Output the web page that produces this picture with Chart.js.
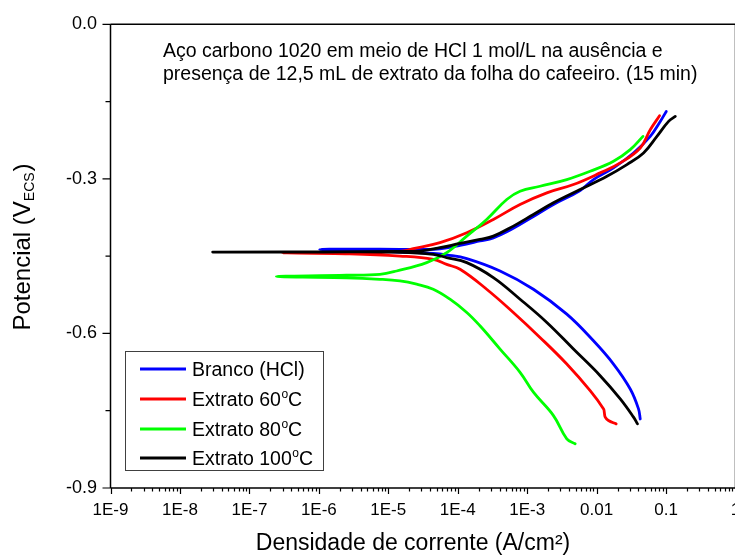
<!DOCTYPE html>
<html><head><meta charset="utf-8">
<script src="https://cdn.jsdelivr.net/npm/chart.js@4.4.1/dist/chart.umd.min.js"></script>
<style>
html,body{margin:0;padding:0;background:#fff;overflow:hidden;width:735px;height:556px}
#wrap{position:absolute;left:0;top:0;width:760px;height:556px}
</style></head><body>
<div id="wrap"><canvas id="c" width="760" height="556"></canvas></div>
<script>
// ---------- data (current density A/cm², potential V vs ECS) ----------
const brancoI = [4.25e-2, 4.01e-2, 3.05e-2, 1.75e-2, 9.01e-3, 3.72e-3, 1.23e-3, 4.07e-4, 1.35e-4, 6.93e-5, 4.44e-5, 1.47e-5, 3.9e-6, 1.03e-6, 3.9e-6, 1.47e-5, 2.86e-5, 5.55e-5, 1.08e-4, 2.09e-4, 3.26e-4, 6.32e-4, 1.23e-3, 2.39e-3, 5.79e-3, 9.01e-3, 1.75e-2, 3.40e-2, 5.92e-2, 8.25e-2, 0.1007];
const brancoE = [-0.766, -0.7465, -0.7078, -0.6594, -0.6143, -0.5626, -0.5142, -0.4788, -0.4548, -0.4475, -0.4445, -0.442, -0.4395, -0.437, -0.4365, -0.4368, -0.4368, -0.4358, -0.429, -0.4205, -0.4145, -0.396, -0.373, -0.3497, -0.3226, -0.3013, -0.2787, -0.2497, -0.2175, -0.1885, -0.1691];

const ext60I = [1.91e-2, 1.48e-2, 1.33e-2, 1.29e-2, 1.26e-2, 8.07e-3, 3.72e-3, 1.53e-3, 6.32e-4, 2.61e-4, 1.08e-4, 6.93e-5, 4.44e-5, 1.47e-5, 2.79e-6, 3.02e-7, 2.79e-6, 1.47e-5, 2.29e-5, 5.55e-5, 1.35e-4, 3.26e-4, 7.90e-4, 1.92e-3, 4.64e-3, 1.125e-2, 2.19e-2, 4.25e-2, 5.92e-2, 8.06e-2];
const ext60E = [-0.7755, -0.7691, -0.7625, -0.7530, -0.7465, -0.7111, -0.6594, -0.6077, -0.5593, -0.5142, -0.4755, -0.4660, -0.4562, -0.4498, -0.4455, -0.4436, -0.4436, -0.4407, -0.4355, -0.4238, -0.4045, -0.3787, -0.3497, -0.3271, -0.311, -0.2884, -0.269, -0.24, -0.2046, -0.1775];

const ext80I = [4.91e-3, 3.72e-3, 2.39e-3, 1.23e-3, 7.90e-4, 4.07e-4, 2.09e-4, 1.35e-4, 7.73e-5, 4.44e-5, 2.56e-5, 1.47e-5, 7.57e-6, 2.5e-6, 2.45e-7, 2.5e-6, 7.57e-6, 1.32e-5, 3.57e-5, 6.93e-5, 1.35e-4, 2.61e-4, 5.08e-4, 7.90e-4, 1.53e-3, 3.72e-3, 8.07e-3, 1.75e-2, 3.05e-2, 4.65e-2];
const ext80E = [-0.8142, -0.8045, -0.7594, -0.7141, -0.6754, -0.6303, -0.5852, -0.5593, -0.5336, -0.5142, -0.5045, -0.4982, -0.4949, -0.492, -0.4896, -0.4871, -0.4852, -0.4788, -0.4626, -0.4432, -0.4111, -0.3787, -0.34, -0.324, -0.3143, -0.3013, -0.2853, -0.2659, -0.2433, -0.2175];

const ext100I = [3.88e-2, 3.40e-2, 2.19e-2, 1.125e-2, 4.64e-3, 1.92e-3, 7.90e-4, 3.26e-4, 1.35e-4, 6.93e-5, 4.44e-5, 1.47e-5, 1.03e-6, 2.96e-8, 1.03e-6, 1.47e-5, 2.86e-5, 5.55e-5, 1.08e-4, 2.09e-4, 3.26e-4, 6.32e-4, 1.23e-3, 2.39e-3, 5.79e-3, 1.41e-2, 2.73e-2, 4.74e-2, 7.39e-2, 0.1087, 0.1358];
const ext100E = [-0.7755, -0.7625, -0.7271, -0.682, -0.6303, -0.5787, -0.5336, -0.4916, -0.4626, -0.4529, -0.4465, -0.4425, -0.442, -0.442, -0.4416, -0.4407, -0.4401, -0.4336, -0.4252, -0.4175, -0.4111, -0.3917, -0.3691, -0.3464, -0.3207, -0.2949, -0.2723, -0.2497, -0.2175, -0.1885, -0.1788];

const seriesLabels = ['Branco (HCl)', 'Extrato 60°C', 'Extrato 80°C', 'Extrato 100°C'];
const seriesColors = ['#0000ff', '#ff0000', '#00ff00', '#000000'];

const xTickValues = [1e-9, 1e-8, 1e-7, 1e-6, 1e-5, 1e-4, 1e-3, 1e-2, 1e-1, 1];
const xTickLabels = ['1E-9', '1E-8', '1E-7', '1E-6', '1E-5', '1E-4', '1E-3', '0.01', '0.1', '1'];
const yTickValues = [0, -0.3, -0.6, -0.9];
const yTickLabels = ['0.0', '-0.3', '-0.6', '-0.9'];
const yMinorValues = [-0.15, -0.45, -0.75];

const noteLines = ['Aço carbono 1020 em meio de HCl 1 mol/L na ausência e',
                   'presença de 12,5 mL de extrato da folha do cafeeiro. (15 min)'];
const legendParts = [['Branco (HCl)', '', ''], ['Extrato 60', 'o', 'C'], ['Extrato 80', 'o', 'C'], ['Extrato 100', 'o', 'C']];

// ---------- chart ----------
const FONT = "'Liberation Sans', Arial, Helvetica, sans-serif";
Chart.defaults.font.family = FONT;
Chart.defaults.color = '#000';

function pts(I, E) { return I.map((v, i) => ({ x: v, y: E[i] })); }
const pairs = [[brancoI, brancoE], [ext60I, ext60E], [ext80I, ext80E], [ext100I, ext100E]];
const drawOrder = [3, 2, 1, 0];

const datasets = pairs.map((p, k) => ({
  label: seriesLabels[k],
  data: pts(p[0], p[1]),
  showLine: true,
  borderColor: seriesColors[k],
  backgroundColor: seriesColors[k],
  borderWidth: 2.8,
  borderJoinStyle: 'round',
  borderCapStyle: 'round',
  pointRadius: 0,
  tension: 0.4,
  fill: false,
  order: drawOrder[k]
}));

const decor = {
  id: 'decor',
  afterDraw(chart) {
    const { ctx, chartArea: a, scales: { x, y } } = chart;
    ctx.save();
    ctx.strokeStyle = '#000';
    ctx.lineWidth = 1.5;
    ctx.beginPath();
    ctx.moveTo(a.left, a.top); ctx.lineTo(a.right + 2, a.top);
    ctx.moveTo(a.left, a.top); ctx.lineTo(a.left, a.bottom);
    ctx.moveTo(a.left, a.bottom); ctx.lineTo(a.right, a.bottom);
    ctx.moveTo(a.right, a.top); ctx.lineTo(a.right, a.bottom);
    ctx.stroke();
    // x ticks (outward, down)
    ctx.lineWidth = 1.2;
    ctx.beginPath();
    for (let d = -9; d <= 0; d++) {
      for (let m = 1; m <= 9; m++) {
        const v = m * Math.pow(10, d);
        if (v > 1.0000001) break;
        const px = Math.round(x.getPixelForValue(v)) + 0.5;
        const len = m === 1 ? 6 : 3.5;
        ctx.moveTo(px, a.bottom); ctx.lineTo(px, a.bottom + len);
      }
    }
    // y ticks (outward, left)
    yTickValues.forEach(v => { const py = y.getPixelForValue(v); ctx.moveTo(a.left, py); ctx.lineTo(a.left - 8, py); });
    yMinorValues.forEach(v => { const py = y.getPixelForValue(v); ctx.moveTo(a.left, py); ctx.lineTo(a.left - 5, py); });
    ctx.stroke();

    ctx.fillStyle = '#000';
    // annotation
    ctx.font = '19.5px ' + FONT;
    ctx.textAlign = 'left';
    ctx.textBaseline = 'middle';
    ctx.fillText(noteLines[0], 163, 52);
    ctx.fillText(noteLines[1], 163, 75);

    // x title
    ctx.font = '23px ' + FONT;
    ctx.textAlign = 'center';
    ctx.fillText('Densidade de corrente (A/cm²)', 413, 544);

    // y title with subscript
    ctx.save();
    ctx.translate(22, 247);
    ctx.rotate(-Math.PI / 2);
    ctx.textAlign = 'left';
    ctx.textBaseline = 'alphabetic';
    const big = '24px ' + FONT, small = '14px ' + FONT;
    ctx.font = big; const w1 = ctx.measureText('Potencial (V').width; const w3 = ctx.measureText(')').width;
    ctx.font = small; const w2 = ctx.measureText('ECS').width;
    const tot = w1 + w2 + w3 + 1;
    let sx = -tot / 2; const base = 8;
    ctx.font = big; ctx.fillText('Potencial (V', sx, base); sx += w1;
    ctx.font = small; ctx.fillText('ECS', sx, base + 4); sx += w2 + 1;
    ctx.font = big; ctx.fillText(')', sx, base);
    ctx.restore();

    // legend
    ctx.lineWidth = 1;
    ctx.strokeStyle = '#404040';
    ctx.strokeRect(125.5, 351.5, 198, 119);
    const rows = [369, 399, 429, 458];
    legendParts.forEach((p, k) => {
      const ry = rows[k];
      ctx.strokeStyle = seriesColors[k];
      ctx.lineWidth = 3;
      ctx.beginPath(); ctx.moveTo(140, ry); ctx.lineTo(186, ry); ctx.stroke();
      ctx.fillStyle = '#000';
      ctx.textAlign = 'left';
      ctx.textBaseline = 'alphabetic';
      const bl = ry + 7;
      let tx = 192;
      ctx.font = '19.5px ' + FONT; ctx.fillText(p[0], tx, bl); tx += ctx.measureText(p[0]).width;
      if (p[1]) {
        ctx.font = '12px ' + FONT; ctx.fillText(p[1], tx + 0.5, bl - 8); tx += ctx.measureText(p[1]).width + 0.5;
        ctx.font = '19.5px ' + FONT; ctx.fillText(p[2], tx, bl);
      }
    });
    ctx.restore();
  }
};

new Chart(document.getElementById('c'), {
  type: 'scatter',
  data: { datasets },
  options: {
    responsive: false,
    animation: false,
    devicePixelRatio: 1,
    layout: { padding: { top: 24, right: 24.5, left: 0, bottom: 0 } },
    plugins: { legend: { display: false }, tooltip: { enabled: false } },
    scales: {
      x: {
        type: 'logarithmic', min: 1e-9, max: 1,
        grid: { display: false, drawTicks: false }, border: { display: false },
        afterBuildTicks: s => { s.ticks = xTickValues.map(v => ({ value: v })); },
        afterFit: s => { s.height = 68; },
        ticks: { autoSkip: false, maxRotation: 0, padding: 12, font: { size: 17 }, color: '#000',
                 callback: (v, i) => xTickLabels[i] }
      },
      y: {
        type: 'linear', min: -0.9, max: 0,
        grid: { display: false, drawTicks: false }, border: { display: false },
        afterBuildTicks: s => { s.ticks = yTickValues.map(v => ({ value: v })); },
        afterFit: s => { s.width = 110.5; },
        ticks: { autoSkip: false, padding: 13.5, font: { size: 18 }, color: '#000',
                 callback: (v, i) => yTickLabels[i] }
      }
    }
  },
  plugins: [decor]
});
</script>
</body></html>
